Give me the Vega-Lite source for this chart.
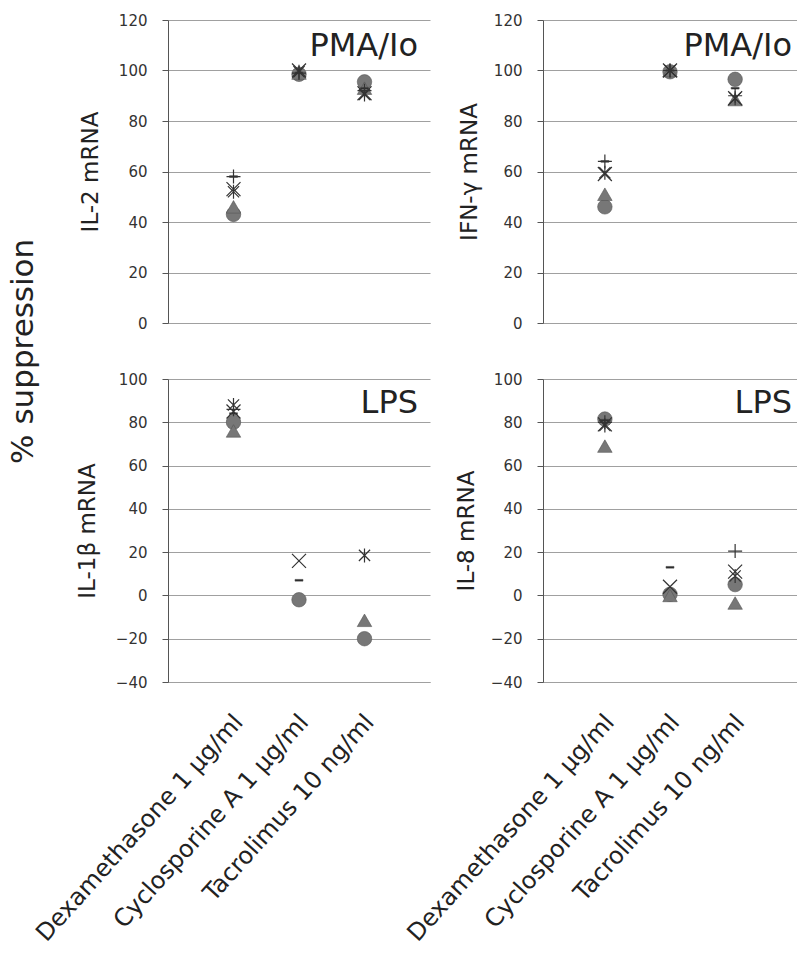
{
  "$schema": "https://vega.github.io/schema/vega-lite/v6.json",
  "background": "white",
  "padding": {"left": 7, "top": 13, "right": 0, "bottom": 0},
  "config": {
    "view": {"stroke": null},
    "font": "DejaVu Sans",
    "axis": {
      "gridColor": "#a0a0a0", "gridWidth": 1,
      "domainColor": "#555", "tickColor": "#555", "tickSize": 6,
      "labelColor": "#333", "labelFont": "DejaVu Sans", "labelFontSize": 15,
      "titleColor": "#222", "titleFont": "DejaVu Sans", "titleFontSize": 23, "titleFontWeight": "normal"
    },
    "title": {"font": "DejaVu Sans", "fontWeight": "normal", "color": "#222"}
  },
  "title": {"text": "% suppression", "orient": "left", "anchor": "middle", "fontSize": 31, "offset": -8, "dx": 128},
  "data": {"values": [
    {"gene": "IL-2", "treatment": "Dexamethasone 1 µg/ml", "sample": "S1", "value": 43},
    {"gene": "IL-2", "treatment": "Dexamethasone 1 µg/ml", "sample": "S2", "value": 46},
    {"gene": "IL-2", "treatment": "Dexamethasone 1 µg/ml", "sample": "S3", "value": 53},
    {"gene": "IL-2", "treatment": "Dexamethasone 1 µg/ml", "sample": "S4", "value": 52},
    {"gene": "IL-2", "treatment": "Dexamethasone 1 µg/ml", "sample": "S5", "value": 58},
    {"gene": "IL-2", "treatment": "Dexamethasone 1 µg/ml", "sample": "S6", "value": 58},
    {"gene": "IL-2", "treatment": "Cyclosporine A 1 µg/ml", "sample": "S1", "value": 98.5},
    {"gene": "IL-2", "treatment": "Cyclosporine A 1 µg/ml", "sample": "S2", "value": 99},
    {"gene": "IL-2", "treatment": "Cyclosporine A 1 µg/ml", "sample": "S3", "value": 100},
    {"gene": "IL-2", "treatment": "Cyclosporine A 1 µg/ml", "sample": "S4", "value": 99.5},
    {"gene": "IL-2", "treatment": "Cyclosporine A 1 µg/ml", "sample": "S5", "value": 99},
    {"gene": "IL-2", "treatment": "Cyclosporine A 1 µg/ml", "sample": "S6", "value": 99},
    {"gene": "IL-2", "treatment": "Tacrolimus 10 ng/ml", "sample": "S1", "value": 95.5},
    {"gene": "IL-2", "treatment": "Tacrolimus 10 ng/ml", "sample": "S2", "value": 93},
    {"gene": "IL-2", "treatment": "Tacrolimus 10 ng/ml", "sample": "S3", "value": 91},
    {"gene": "IL-2", "treatment": "Tacrolimus 10 ng/ml", "sample": "S4", "value": 90.5},
    {"gene": "IL-2", "treatment": "Tacrolimus 10 ng/ml", "sample": "S5", "value": 92},
    {"gene": "IL-2", "treatment": "Tacrolimus 10 ng/ml", "sample": "S6", "value": 93},

    {"gene": "IFN", "treatment": "Dexamethasone 1 µg/ml", "sample": "S1", "value": 46},
    {"gene": "IFN", "treatment": "Dexamethasone 1 µg/ml", "sample": "S2", "value": 51},
    {"gene": "IFN", "treatment": "Dexamethasone 1 µg/ml", "sample": "S3", "value": 59},
    {"gene": "IFN", "treatment": "Dexamethasone 1 µg/ml", "sample": "S4", "value": 59.5},
    {"gene": "IFN", "treatment": "Dexamethasone 1 µg/ml", "sample": "S5", "value": 64},
    {"gene": "IFN", "treatment": "Dexamethasone 1 µg/ml", "sample": "S6", "value": 64},
    {"gene": "IFN", "treatment": "Cyclosporine A 1 µg/ml", "sample": "S1", "value": 99.5},
    {"gene": "IFN", "treatment": "Cyclosporine A 1 µg/ml", "sample": "S2", "value": 100},
    {"gene": "IFN", "treatment": "Cyclosporine A 1 µg/ml", "sample": "S3", "value": 100},
    {"gene": "IFN", "treatment": "Cyclosporine A 1 µg/ml", "sample": "S4", "value": 100},
    {"gene": "IFN", "treatment": "Cyclosporine A 1 µg/ml", "sample": "S5", "value": 100},
    {"gene": "IFN", "treatment": "Cyclosporine A 1 µg/ml", "sample": "S6", "value": 100},
    {"gene": "IFN", "treatment": "Tacrolimus 10 ng/ml", "sample": "S1", "value": 96.5},
    {"gene": "IFN", "treatment": "Tacrolimus 10 ng/ml", "sample": "S2", "value": 88.5},
    {"gene": "IFN", "treatment": "Tacrolimus 10 ng/ml", "sample": "S3", "value": 89},
    {"gene": "IFN", "treatment": "Tacrolimus 10 ng/ml", "sample": "S4", "value": 89},
    {"gene": "IFN", "treatment": "Tacrolimus 10 ng/ml", "sample": "S5", "value": 90},
    {"gene": "IFN", "treatment": "Tacrolimus 10 ng/ml", "sample": "S6", "value": 93},

    {"gene": "IL-1b", "treatment": "Dexamethasone 1 µg/ml", "sample": "S1", "value": 80},
    {"gene": "IL-1b", "treatment": "Dexamethasone 1 µg/ml", "sample": "S2", "value": 76},
    {"gene": "IL-1b", "treatment": "Dexamethasone 1 µg/ml", "sample": "S3", "value": 85},
    {"gene": "IL-1b", "treatment": "Dexamethasone 1 µg/ml", "sample": "S4", "value": 88},
    {"gene": "IL-1b", "treatment": "Dexamethasone 1 µg/ml", "sample": "S5", "value": 86},
    {"gene": "IL-1b", "treatment": "Dexamethasone 1 µg/ml", "sample": "S6", "value": 84},
    {"gene": "IL-1b", "treatment": "Cyclosporine A 1 µg/ml", "sample": "S1", "value": -2},
    {"gene": "IL-1b", "treatment": "Cyclosporine A 1 µg/ml", "sample": "S3", "value": 16},
    {"gene": "IL-1b", "treatment": "Cyclosporine A 1 µg/ml", "sample": "S6", "value": 7},
    {"gene": "IL-1b", "treatment": "Tacrolimus 10 ng/ml", "sample": "S1", "value": -20},
    {"gene": "IL-1b", "treatment": "Tacrolimus 10 ng/ml", "sample": "S2", "value": -11.5},
    {"gene": "IL-1b", "treatment": "Tacrolimus 10 ng/ml", "sample": "S4", "value": 18.5},

    {"gene": "IL-8", "treatment": "Dexamethasone 1 µg/ml", "sample": "S1", "value": 81.5},
    {"gene": "IL-8", "treatment": "Dexamethasone 1 µg/ml", "sample": "S2", "value": 69},
    {"gene": "IL-8", "treatment": "Dexamethasone 1 µg/ml", "sample": "S3", "value": 79},
    {"gene": "IL-8", "treatment": "Dexamethasone 1 µg/ml", "sample": "S4", "value": 78.5},
    {"gene": "IL-8", "treatment": "Dexamethasone 1 µg/ml", "sample": "S5", "value": 80},
    {"gene": "IL-8", "treatment": "Dexamethasone 1 µg/ml", "sample": "S6", "value": 81},
    {"gene": "IL-8", "treatment": "Cyclosporine A 1 µg/ml", "sample": "S1", "value": 0.5},
    {"gene": "IL-8", "treatment": "Cyclosporine A 1 µg/ml", "sample": "S2", "value": 0},
    {"gene": "IL-8", "treatment": "Cyclosporine A 1 µg/ml", "sample": "S3", "value": 4},
    {"gene": "IL-8", "treatment": "Cyclosporine A 1 µg/ml", "sample": "S6", "value": 13},
    {"gene": "IL-8", "treatment": "Tacrolimus 10 ng/ml", "sample": "S1", "value": 5},
    {"gene": "IL-8", "treatment": "Tacrolimus 10 ng/ml", "sample": "S2", "value": -3.5},
    {"gene": "IL-8", "treatment": "Tacrolimus 10 ng/ml", "sample": "S3", "value": 11},
    {"gene": "IL-8", "treatment": "Tacrolimus 10 ng/ml", "sample": "S4", "value": 9},
    {"gene": "IL-8", "treatment": "Tacrolimus 10 ng/ml", "sample": "S5", "value": 20.5}
  ]},
  "columns": 2,
  "bounds": "flush",
  "spacing": {"row": 56, "column": 113},
  "concat": [
    {
      "width": 262, "height": 303,
      "title": {"text": "PMA/Io", "anchor": "end", "frame": "group", "offset": -50, "fontSize": 32, "dx": -12},
      "transform": [{"filter": "datum.gene == 'IL-2'"}],
      "encoding": {
        "x": {"field": "treatment", "type": "nominal", "sort": ["Dexamethasone 1 µg/ml", "Cyclosporine A 1 µg/ml", "Tacrolimus 10 ng/ml"], "scale": {"type": "point", "padding": 1}, "axis": {"labels": false, "ticks": false, "title": null, "domainColor": "#a0a0a0", "grid": false}},
        "y": {"field": "value", "type": "quantitative", "scale": {"domain": [0, 120]}, "axis": {"values": [0, 20, 40, 60, 80, 100, 120], "title": "IL-2 mRNA", "labelPadding": 15, "titlePadding": 16}}
      },
      "layer": [
        {"transform": [{"filter": "datum.sample == 'S1' || datum.sample == 'S2' || datum.sample == 'S6'"}],
         "mark": {"type": "point", "filled": true, "opacity": 1, "size": 210, "stroke": "#555", "strokeWidth": 0.6},
         "encoding": {
           "shape": {"field": "sample", "type": "nominal", "scale": {"domain": ["S1", "S2", "S3", "S4", "S5", "S6"], "range": ["circle", "triangle-up", "M-1,-1L1,1M-1,1L1,-1", "M-0.8,-0.8L0.8,0.8M-0.8,0.8L0.8,-0.8M0,-1L0,1", "M-1,0L1,0M0,-1L0,1", "M-0.55,-0.12L0.55,-0.12L0.55,0.12L-0.55,0.12Z"]}, "legend": null},
           "color": {"field": "sample", "type": "nominal", "scale": {"domain": ["S1", "S2", "S6"], "range": ["#777777", "#777777", "#222222"]}, "legend": null}
         }},
        {"transform": [{"filter": "datum.sample == 'S3' || datum.sample == 'S4' || datum.sample == 'S5'"}],
         "mark": {"type": "point", "filled": false, "opacity": 1, "size": 196, "color": "#333", "strokeWidth": 1.2},
         "encoding": {
           "shape": {"field": "sample", "type": "nominal", "scale": {"domain": ["S1", "S2", "S3", "S4", "S5", "S6"], "range": ["circle", "triangle-up", "M-1,-1L1,1M-1,1L1,-1", "M-0.8,-0.8L0.8,0.8M-0.8,0.8L0.8,-0.8M0,-1L0,1", "M-1,0L1,0M0,-1L0,1", "M-0.55,-0.12L0.55,-0.12L0.55,0.12L-0.55,0.12Z"]}, "legend": null}
         }}
      ]
    },
    {
      "width": 254, "height": 303,
      "title": {"text": "PMA/Io", "anchor": "end", "frame": "group", "offset": -50, "fontSize": 32, "dx": -5},
      "transform": [{"filter": "datum.gene == 'IFN'"}],
      "encoding": {
        "x": {"field": "treatment", "type": "nominal", "sort": ["Dexamethasone 1 µg/ml", "Cyclosporine A 1 µg/ml", "Tacrolimus 10 ng/ml"], "scale": {"type": "point", "padding": 0.95}, "axis": {"labels": false, "ticks": false, "title": null, "domainColor": "#a0a0a0", "grid": false}},
        "y": {"field": "value", "type": "quantitative", "scale": {"domain": [0, 120]}, "axis": {"values": [0, 20, 40, 60, 80, 100, 120], "title": "IFN-γ mRNA", "labelPadding": 15, "titlePadding": 12}}
      },
      "layer": [
        {"transform": [{"filter": "datum.sample == 'S1' || datum.sample == 'S2' || datum.sample == 'S6'"}],
         "mark": {"type": "point", "filled": true, "opacity": 1, "size": 210, "stroke": "#555", "strokeWidth": 0.6},
         "encoding": {
           "shape": {"field": "sample", "type": "nominal", "scale": {"domain": ["S1", "S2", "S3", "S4", "S5", "S6"], "range": ["circle", "triangle-up", "M-1,-1L1,1M-1,1L1,-1", "M-0.8,-0.8L0.8,0.8M-0.8,0.8L0.8,-0.8M0,-1L0,1", "M-1,0L1,0M0,-1L0,1", "M-0.55,-0.12L0.55,-0.12L0.55,0.12L-0.55,0.12Z"]}, "legend": null},
           "color": {"field": "sample", "type": "nominal", "scale": {"domain": ["S1", "S2", "S6"], "range": ["#777777", "#777777", "#222222"]}, "legend": null}
         }},
        {"transform": [{"filter": "datum.sample == 'S3' || datum.sample == 'S4' || datum.sample == 'S5'"}],
         "mark": {"type": "point", "filled": false, "opacity": 1, "size": 196, "color": "#333", "strokeWidth": 1.2},
         "encoding": {
           "shape": {"field": "sample", "type": "nominal", "scale": {"domain": ["S1", "S2", "S3", "S4", "S5", "S6"], "range": ["circle", "triangle-up", "M-1,-1L1,1M-1,1L1,-1", "M-0.8,-0.8L0.8,0.8M-0.8,0.8L0.8,-0.8M0,-1L0,1", "M-1,0L1,0M0,-1L0,1", "M-0.55,-0.12L0.55,-0.12L0.55,0.12L-0.55,0.12Z"]}, "legend": null}
         }}
      ]
    },
    {
      "width": 262, "height": 303,
      "title": {"text": "LPS", "anchor": "end", "frame": "group", "offset": -48, "fontSize": 32, "dx": -12},
      "transform": [{"filter": "datum.gene == 'IL-1b'"}],
      "encoding": {
        "x": {"field": "treatment", "type": "nominal", "sort": ["Dexamethasone 1 µg/ml", "Cyclosporine A 1 µg/ml", "Tacrolimus 10 ng/ml"], "scale": {"type": "point", "padding": 1}, "axis": {"labelAngle": -48, "labelAlign": "right", "labelBaseline": "middle", "labelFontSize": 24, "labelColor": "#222", "labelPadding": 36, "labelOffset": 5, "labelLimit": 500, "ticks": false, "title": null, "domainColor": "#a0a0a0", "grid": false}},
        "y": {"field": "value", "type": "quantitative", "scale": {"domain": [-40, 100]}, "axis": {"values": [-40, -20, 0, 20, 40, 60, 80, 100], "title": "IL-1β mRNA", "labelPadding": 15, "titlePadding": 16}}
      },
      "layer": [
        {"transform": [{"filter": "datum.sample == 'S1' || datum.sample == 'S2' || datum.sample == 'S6'"}],
         "mark": {"type": "point", "filled": true, "opacity": 1, "size": 210, "stroke": "#555", "strokeWidth": 0.6},
         "encoding": {
           "shape": {"field": "sample", "type": "nominal", "scale": {"domain": ["S1", "S2", "S3", "S4", "S5", "S6"], "range": ["circle", "triangle-up", "M-1,-1L1,1M-1,1L1,-1", "M-0.8,-0.8L0.8,0.8M-0.8,0.8L0.8,-0.8M0,-1L0,1", "M-1,0L1,0M0,-1L0,1", "M-0.55,-0.12L0.55,-0.12L0.55,0.12L-0.55,0.12Z"]}, "legend": null},
           "color": {"field": "sample", "type": "nominal", "scale": {"domain": ["S1", "S2", "S6"], "range": ["#777777", "#777777", "#222222"]}, "legend": null}
         }},
        {"transform": [{"filter": "datum.sample == 'S3' || datum.sample == 'S4' || datum.sample == 'S5'"}],
         "mark": {"type": "point", "filled": false, "opacity": 1, "size": 196, "color": "#333", "strokeWidth": 1.2},
         "encoding": {
           "shape": {"field": "sample", "type": "nominal", "scale": {"domain": ["S1", "S2", "S3", "S4", "S5", "S6"], "range": ["circle", "triangle-up", "M-1,-1L1,1M-1,1L1,-1", "M-0.8,-0.8L0.8,0.8M-0.8,0.8L0.8,-0.8M0,-1L0,1", "M-1,0L1,0M0,-1L0,1", "M-0.55,-0.12L0.55,-0.12L0.55,0.12L-0.55,0.12Z"]}, "legend": null}
         }}
      ]
    },
    {
      "width": 254, "height": 303,
      "title": {"text": "LPS", "anchor": "end", "frame": "group", "offset": -48, "fontSize": 32, "dx": -5},
      "transform": [{"filter": "datum.gene == 'IL-8'"}],
      "encoding": {
        "x": {"field": "treatment", "type": "nominal", "sort": ["Dexamethasone 1 µg/ml", "Cyclosporine A 1 µg/ml", "Tacrolimus 10 ng/ml"], "scale": {"type": "point", "padding": 0.95}, "axis": {"labelAngle": -48, "labelAlign": "right", "labelBaseline": "middle", "labelFontSize": 24, "labelColor": "#222", "labelPadding": 36, "labelOffset": 5, "labelLimit": 500, "ticks": false, "title": null, "domainColor": "#a0a0a0", "grid": false}},
        "y": {"field": "value", "type": "quantitative", "scale": {"domain": [-40, 100]}, "axis": {"values": [-40, -20, 0, 20, 40, 60, 80, 100], "title": "IL-8 mRNA", "labelPadding": 15, "titlePadding": 12}}
      },
      "layer": [
        {"transform": [{"filter": "datum.sample == 'S1' || datum.sample == 'S2' || datum.sample == 'S6'"}],
         "mark": {"type": "point", "filled": true, "opacity": 1, "size": 210, "stroke": "#555", "strokeWidth": 0.6},
         "encoding": {
           "shape": {"field": "sample", "type": "nominal", "scale": {"domain": ["S1", "S2", "S3", "S4", "S5", "S6"], "range": ["circle", "triangle-up", "M-1,-1L1,1M-1,1L1,-1", "M-0.8,-0.8L0.8,0.8M-0.8,0.8L0.8,-0.8M0,-1L0,1", "M-1,0L1,0M0,-1L0,1", "M-0.55,-0.12L0.55,-0.12L0.55,0.12L-0.55,0.12Z"]}, "legend": null},
           "color": {"field": "sample", "type": "nominal", "scale": {"domain": ["S1", "S2", "S6"], "range": ["#777777", "#777777", "#222222"]}, "legend": null}
         }},
        {"transform": [{"filter": "datum.sample == 'S3' || datum.sample == 'S4' || datum.sample == 'S5'"}],
         "mark": {"type": "point", "filled": false, "opacity": 1, "size": 196, "color": "#333", "strokeWidth": 1.2},
         "encoding": {
           "shape": {"field": "sample", "type": "nominal", "scale": {"domain": ["S1", "S2", "S3", "S4", "S5", "S6"], "range": ["circle", "triangle-up", "M-1,-1L1,1M-1,1L1,-1", "M-0.8,-0.8L0.8,0.8M-0.8,0.8L0.8,-0.8M0,-1L0,1", "M-1,0L1,0M0,-1L0,1", "M-0.55,-0.12L0.55,-0.12L0.55,0.12L-0.55,0.12Z"]}, "legend": null}
         }}
      ]
    }
  ]
}
